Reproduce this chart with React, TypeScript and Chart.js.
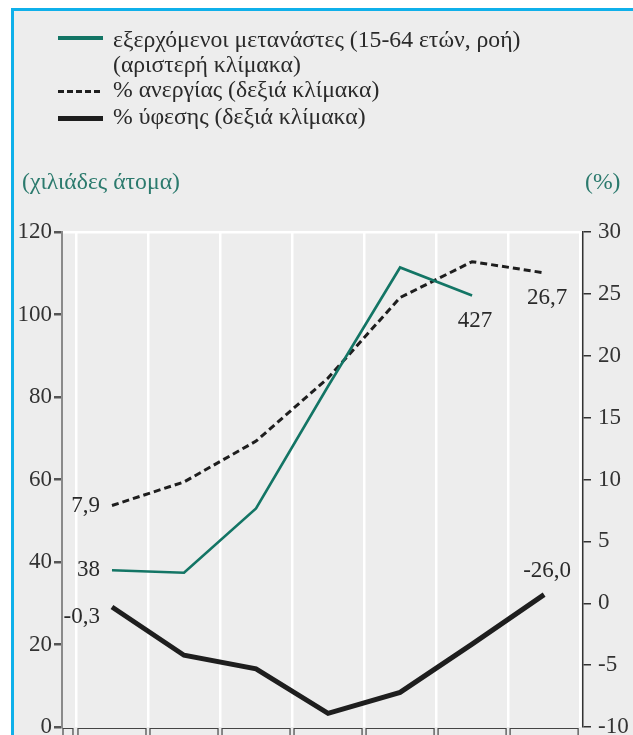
import React, { useEffect, useRef } from "react";
import { Chart, registerables } from "chart.js";

Chart.register(...registerables);

const categories = ["2008", "2009", "2010", "2011", "2012", "2013", "2014"];
const emigrants = [38, 37.4, 53, 82.6, 111.4, 104.6, null];
const unemployment = [7.9, 9.8, 13.1, 18.2, 24.7, 27.6, 26.7];
const recession = [-0.3, -4.2, -5.3, -8.9, -7.2, -3.3, 0.7];

const leftTicks = [0, 20, 40, 60, 80, 100, 120];
const rightTicks = [-10, -5, 0, 5, 10, 15, 20, 25, 30];

const seriesLabels = [
  "εξερχόμενοι μετανάστες (15-64 ετών, ροή)",
  "(αριστερή κλίμακα)",
  "% ανεργίας (δεξιά κλίμακα)",
  "% ύφεσης (δεξιά κλίμακα)",
];
const leftUnit = "(χιλιάδες άτομα)";
const rightUnit = "(%)";

// point annotations: [dataset index, point index, text]
const annotations: [number, number, string][] = [
  [1, 0, "7,9"],
  [0, 0, "38"],
  [2, 0, "-0,3"],
  [0, 5, "427"],
  [1, 6, "26,7"],
  [2, 6, "-26,0"],
];

const TEAL = "#137565";
const TEAL_TEXT = "#2b7a6d";
const FONT = "'Liberation Serif', 'Times New Roman', serif";

const toPts = (arr: (number | null)[]) =>
  arr.map((v, i) => ({ x: i, y: v }));

const noPad = (s: any) => {
  s.paddingTop = 0;
  s.paddingBottom = 0;
  s.paddingLeft = 0;
  s.paddingRight = 0;
};

export default function App() {
  const ref = useRef<HTMLCanvasElement | null>(null);

  useEffect(() => {
    const canvas = ref.current!;
    const bgPlugin = {
      id: "bg",
      beforeDraw(chart: any) {
        const ctx = chart.ctx;
        ctx.save();
        ctx.fillStyle = "#ededed";
        ctx.fillRect(11, 8, chart.width, chart.height);
        ctx.fillStyle = "#0fb0ea";
        ctx.fillRect(11, 8, 3, chart.height);
        ctx.fillRect(11, 8, chart.width, 3);
        ctx.restore();
      },
    };
    const annPlugin = {
      id: "ann",
      afterDraw(chart: any) {
        const ctx = chart.ctx;
        const xs = chart.scales.x;
        const area = chart.chartArea;
        ctx.save();
        // category boxes below axis
        ctx.strokeStyle = "#444";
        ctx.lineWidth = 1.2;
        const top = area.bottom + 1.5;
        const H = chart.height + 5;
        const boxes: [number, number][] = [[area.left + 1, xs.getPixelForValue(-0.5) - 3]];
        for (let i = 0; i < categories.length; i++) {
          boxes.push([xs.getPixelForValue(i - 0.5) + 2, xs.getPixelForValue(i + 0.5) - 2]);
        }
        boxes.forEach(([l, r]) => {
          ctx.beginPath();
          ctx.moveTo(l, H);
          ctx.lineTo(l, top);
          ctx.lineTo(r, top);
          ctx.lineTo(r, H);
          ctx.stroke();
        });
        // labels
        ctx.font = `23px ${FONT}`;
        ctx.fillStyle = "#2a2a2a";
        ctx.textBaseline = "middle";
        annotations.forEach(([d, i, t]) => {
          const el = chart.getDatasetMeta(d).data[i];
          if (!el) return;
          if (i === 0) {
            ctx.textAlign = "right";
            const dy = d === 2 ? 10 : 0;
            ctx.fillText(t, el.x - 12, el.y + dy);
          } else {
            ctx.textAlign = "center";
            const dy = d === 2 ? -24 : 25;
            ctx.fillText(t, el.x + 3, el.y + dy);
          }
        });
        ctx.restore();
      },
    };

    const chart = new Chart(canvas, {
      type: "line",
      data: {
        datasets: [
          {
            label: seriesLabels[0],
            data: toPts(emigrants),
            borderColor: TEAL,
            borderWidth: 2.6,
            pointRadius: 0,
            yAxisID: "y",
          },
          {
            label: seriesLabels[2],
            data: toPts(unemployment),
            borderColor: "#1e1e1e",
            borderWidth: 3,
            borderDash: [7, 4],
            pointRadius: 0,
            yAxisID: "y1",
          },
          {
            label: seriesLabels[3],
            data: toPts(recession),
            borderColor: "#1e1e1e",
            borderWidth: 5,
            pointRadius: 0,
            yAxisID: "y1",
          },
        ],
      },
      options: {
        responsive: false,
        animation: false,
        events: [],
        layout: { padding: { left: 0, right: 0, top: 232, bottom: 8 } },
        plugins: { legend: { display: false }, tooltip: { enabled: false } },
        scales: {
          x: {
            type: "linear",
            min: -0.694,
            max: 6.54,
            afterBuildTicks: (s: any) => {
              s.ticks = [-0.5, 0.5, 1.5, 2.5, 3.5, 4.5, 5.5, 6.5].map((v) => ({ value: v }));
            },
            afterFit: (s: any) => {
              s.height = 0;
              noPad(s);
            },
            ticks: { display: false },
            border: { display: false },
            grid: { color: "#ffffff", lineWidth: 2.5, drawTicks: false },
          },
          y: {
            position: "left",
            min: 0,
            max: 120,
            afterBuildTicks: (s: any) => {
              s.ticks = leftTicks.map((v) => ({ value: v }));
            },
            afterFit: (s: any) => {
              s.width = 62;
              noPad(s);
            },
            ticks: {
              color: "#333",
              padding: 2,
              font: { family: FONT, size: 23 },
            },
            border: { color: "#8a8a8a", width: 2 },
            grid: {
              color: (c: any) => (c.tick && c.tick.value === 120 ? "#ffffff" : "rgba(0,0,0,0)"),
              lineWidth: 2.5,
              tickColor: "#555",
              tickLength: 8,
            },
          },
          y1: {
            position: "right",
            min: -10,
            max: 30,
            afterBuildTicks: (s: any) => {
              s.ticks = rightTicks.map((v) => ({ value: v }));
            },
            afterFit: (s: any) => {
              s.width = 50;
              noPad(s);
            },
            ticks: {
              color: "#333",
              padding: 7,
              font: { family: FONT, size: 23 },
            },
            border: { color: "#333", width: 1.5 },
            grid: { drawOnChartArea: false, tickColor: "#333", tickLength: 8, lineWidth: 1.5 },
          },
        },
      },
      plugins: [bgPlugin, annPlugin],
    } as any);
    return () => chart.destroy();
  }, []);

  const txt: React.CSSProperties = {
    position: "absolute",
    fontFamily: FONT,
    fontSize: 23.7,
    lineHeight: "26px",
    color: "#2a2a2a",
    whiteSpace: "nowrap",
  };
  const marker = (top: number, style: React.CSSProperties) => (
    <div style={{ position: "absolute", left: 58, top, width: 45, ...style }} />
  );

  return (
    <div style={{ position: "fixed", left: 0, top: 0, width: 633, height: 735, overflow: "hidden" }}>
      <canvas ref={ref} width={633} height={735} style={{ position: "absolute", left: 0, top: 0 }} />
      {marker(36, { height: 4, background: TEAL })}
      <div style={{ ...txt, left: 113, top: 26 }}>{seriesLabels[0]}</div>
      <div style={{ ...txt, left: 113, top: 51 }}>{seriesLabels[1]}</div>
      {marker(90, {
        height: 3,
        background: "repeating-linear-gradient(90deg, #1e1e1e 0 6px, transparent 6px 9px)",
      })}
      <div style={{ ...txt, left: 113, top: 76 }}>{seriesLabels[2]}</div>
      {marker(116, { height: 5, background: "#1e1e1e" })}
      <div style={{ ...txt, left: 113, top: 103 }}>{seriesLabels[3]}</div>
      <div style={{ ...txt, left: 22, top: 168, color: TEAL_TEXT }}>{leftUnit}</div>
      <div style={{ ...txt, left: 585, top: 168, color: TEAL_TEXT }}>{rightUnit}</div>
    </div>
  );
}
